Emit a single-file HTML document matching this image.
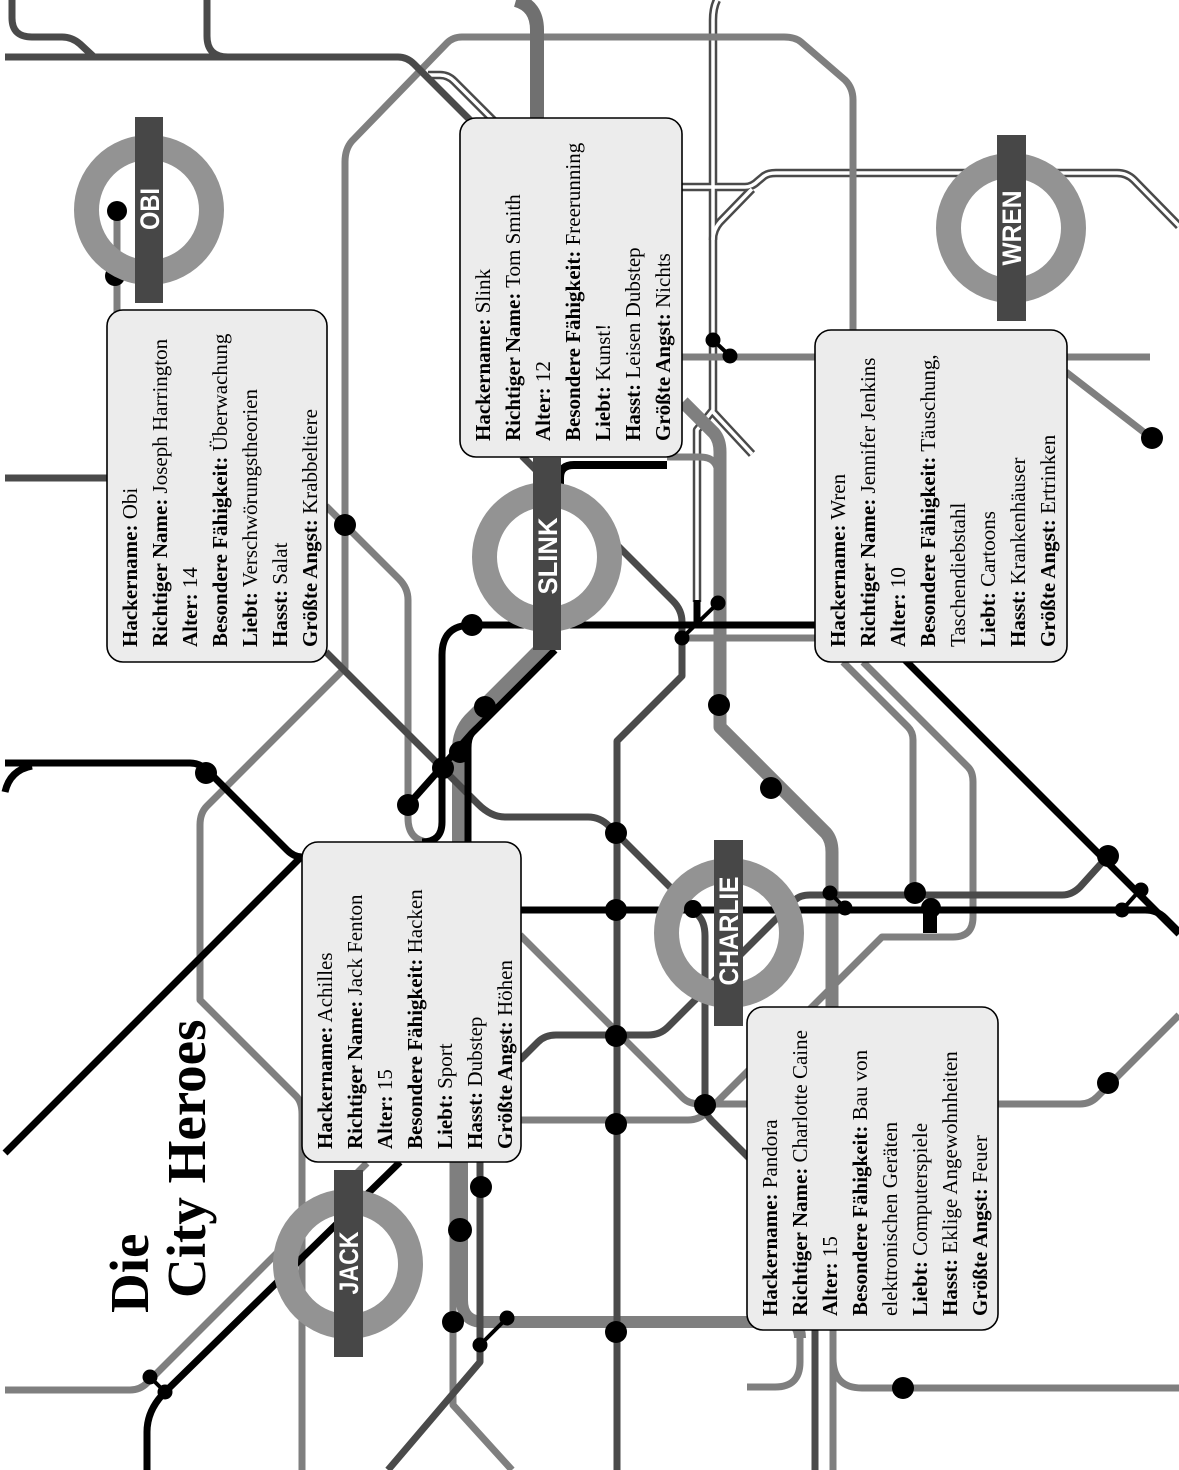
<!DOCTYPE html>
<html>
<head>
<meta charset="utf-8">
<style>
html,body{margin:0;padding:0;background:#fff;}
svg{display:block;}
</style>
</head>
<body>
<svg width="1179" height="1470" viewBox="0 0 1179 1470" xmlns="http://www.w3.org/2000/svg">
<rect width="1179" height="1470" fill="#fff"/>

<!-- double lines -->
<g fill="none" stroke-linejoin="round">
  <g stroke="#4a4a4a" stroke-width="8.5">
    <path d="M428,75 H440 Q448,75 454,81 L497,124"/>
    <path d="M717,0 Q713,8 713,20 V410 L697,430 V602"/>
    <path d="M713,412 L752,454"/>
    <path d="M682,187 H745 Q752,187 758,181 L764,176 Q768,173 776,173 H1117 Q1127,173 1134,180 L1179,226"/>
    <path d="M713,240 Q713,230 720,222 L752,189"/>
  </g>
  <g stroke="#fff" stroke-width="3.5">
    <path d="M428,75 H440 Q448,75 454,81 L497,124"/>
    <path d="M717,0 Q713,8 713,20 V410 L697,430 V602"/>
    <path d="M713,412 L752,454"/>
    <path d="M682,187 H745 Q752,187 758,181 L764,176 Q768,173 776,173 H1117 Q1127,173 1134,180 L1179,226"/>
    <path d="M713,240 Q713,230 720,222 L752,189"/>
  </g>
</g>

<!-- medium gray lines -->
<g fill="none" stroke="#7f7f7f" stroke-width="7" stroke-linejoin="round">
  <path d="M853,330 V100 Q853,88 845,80 L801,42 Q795,37 784,37 H462 Q453,37 447,43 L352,141 Q345,149 345,162 V668 L207,806 Q200,813 200,825 V1000 L296,1096 Q302,1102 302,1114 V1470"/>
  <path d="M117,215 V312"/>
  <path d="M326,506 L399,579 Q408,588 408,600 V818 Q408,840 428,842"/>
  <path d="M682,357 H1150"/>
  <path d="M1066,372 L1150,437"/>
  <path d="M682,638 H816"/>
  <path d="M843,662 L908,727 Q913,732 913,740 V893"/>
  <path d="M863,662 L968,767 Q973,772 973,782 V917 Q973,937 953,937 H882 L707,1112 Q699,1120 688,1120 H520"/>
  <path d="M520,935 L683,1098 Q689,1104 700,1104 H1080 Q1090,1104 1097,1097 L1179,1015"/>
  <path d="M5,1390 H130 Q140,1390 147,1383 L367,1163"/>
  <path d="M453,1162 V1405 L512,1470"/>
  <path d="M800,1335 V1362 Q800,1387 775,1387 H747"/>
  <path d="M833,1330 V1470"/>
  <path d="M833,1358 Q833,1388 862,1388 H1179"/>
  <path d="M667,457 H700 Q718,457 718,475"/>
  <path d="M683,402 L714,433 Q720,440 720,452 V727 L826,833 Q832,840 832,852 V1010" stroke-width="13"/>
  <path d="M548,642 L470,720 Q459,732 459,750 V843" stroke-width="14"/>
  <path d="M462,1162 V1300 Q462,1322 484,1322 H785 Q800,1322 800,1338" stroke-width="12"/>
  <path d="M516,0 Q537,6 537,30 V120" stroke="#707070" stroke-width="14"/>
</g>

<!-- dark gray lines -->
<g fill="none" stroke="#4a4a4a" stroke-width="7" stroke-linejoin="round">
  <path d="M12,0 V18 Q12,37 32,37 H62 Q72,37 80,44 L94,57"/>
  <path d="M5,57 H398 Q407,57 414,64 L474,124"/>
  <path d="M207,0 V36 Q207,57 228,57"/>
  <path d="M5,478 H110"/>
  <path d="M326,652 L478,804 Q491,817 505,817 H588 Q600,817 609,826 L698,915 Q705,922 705,936 V1106 Q705,1114 712,1121 L750,1159"/>
  <path d="M600,528 L673,601 Q682,610 682,622 V676 L617,741 V1470"/>
  <path d="M520,1060 L538,1042 Q545,1035 556,1035 H648 Q660,1035 668,1027 L795,900 Q800,895 810,895 H1062 Q1072,895 1080,887 L1108,856"/>
  <path d="M480,1162 V1362 L388,1470"/>
  <path d="M815,1330 V1470"/>
  <path d="M522,456 L542,476"/>
</g>

<!-- black lines -->
<g fill="none" stroke="#000" stroke-width="7" stroke-linejoin="round">
  <path d="M5,763 H190 Q200,763 208,771 L287,850 Q294,857 302,857"/>
  <path d="M300,858 L5,1153"/>
  <path d="M5,792 Q10,770 32,766"/>
  <path d="M520,910 H1145 Q1157,910 1165,918 L1179,932"/>
  <path d="M905,660 L1179,934"/>
  <path d="M472,625 H816"/>
  <path d="M472,625 Q442,625 442,655 V822 Q442,842 422,842"/>
  <path d="M555,650 L472,733 Q468,738 468,748 V843"/>
  <path d="M472,733 L408,805"/>
  <path d="M560,485 V478 Q560,465 574,465 H667" stroke-width="8"/>
  <path d="M165,1392 L400,1162"/>
  <path d="M165,1392 Q147,1410 147,1432 V1470"/>
  <path d="M930,906 V933" stroke-width="14"/>
  <path d="M697,600 V625"/>
  <g stroke-width="4">
    <path d="M713,340 L730,356"/>
    <path d="M830,893 L845,908"/>
    <path d="M1140,890 L1122,910"/>
    <path d="M150,1377 L165,1392"/>
    <path d="M507,1318 L480,1345"/>
    <path d="M718,603 L682,638"/>
  </g>
</g>

<!-- dots -->
<g fill="#000">
  <circle cx="115" cy="276" r="10"/>
  <circle cx="345" cy="525" r="11"/>
  <circle cx="206" cy="773" r="11"/>
  <circle cx="472" cy="625" r="11"/>
  <circle cx="485" cy="707" r="11"/>
  <circle cx="460" cy="752" r="11"/>
  <circle cx="443" cy="768" r="11"/>
  <circle cx="408" cy="805" r="11"/>
  <circle cx="719" cy="705" r="11"/>
  <circle cx="771" cy="788" r="11"/>
  <circle cx="616" cy="833" r="11"/>
  <circle cx="616" cy="910" r="11"/>
  <circle cx="616" cy="1036" r="11"/>
  <circle cx="616" cy="1124" r="11"/>
  <circle cx="616" cy="1332" r="11"/>
  <circle cx="705" cy="1105" r="11"/>
  <circle cx="915" cy="893" r="11"/>
  <circle cx="931" cy="908" r="10"/>
  <circle cx="1108" cy="856" r="11"/>
  <circle cx="1152" cy="438" r="11"/>
  <circle cx="1108" cy="1083" r="11"/>
  <circle cx="903" cy="1388" r="11"/>
  <circle cx="481" cy="1187" r="11"/>
  <circle cx="460" cy="1230" r="12"/>
  <circle cx="453" cy="1322" r="11"/>
  <circle cx="713" cy="340" r="7.5"/>
  <circle cx="730" cy="356" r="7.5"/>
  <circle cx="718" cy="603" r="7.5"/>
  <circle cx="682" cy="638" r="7.5"/>
  <circle cx="830" cy="893" r="7.5"/>
  <circle cx="845" cy="908" r="7.5"/>
  <circle cx="1141" cy="890" r="7.5"/>
  <circle cx="1122" cy="910" r="7.5"/>
  <circle cx="150" cy="1377" r="7.5"/>
  <circle cx="165" cy="1392" r="7.5"/>
  <circle cx="507" cy="1318" r="7.5"/>
  <circle cx="480" cy="1345" r="7.5"/>
</g>

<!-- rings -->
<g fill="none" stroke="#939393" stroke-width="25">
  <circle cx="149" cy="210" r="62.5"/>
  <circle cx="1011" cy="228" r="62.5"/>
  <circle cx="547" cy="557" r="62.5"/>
  <circle cx="729" cy="933" r="62.5"/>
  <circle cx="348" cy="1264" r="62.5"/>
</g>
<g fill="#000">
  <circle cx="117" cy="211" r="10"/>
  <circle cx="693" cy="909" r="9"/>
</g>

<!-- bars -->
<g fill="#474747">
  <rect x="135" y="117" width="28" height="186"/>
  <rect x="997" y="135" width="29" height="186"/>
  <rect x="533" y="458" width="28" height="192"/>
  <rect x="714" y="840" width="29" height="186"/>
  <rect x="334" y="1170" width="29" height="187"/>
</g>
<g fill="#fff" font-family="'Liberation Sans Narrow','Liberation Sans',sans-serif" font-weight="bold" font-size="27" text-anchor="middle">
  <text transform="translate(149,209) rotate(-90)" x="0" y="10" textLength="42" lengthAdjust="spacingAndGlyphs">OBI</text>
  <text transform="translate(1011,228) rotate(-90)" x="0" y="10" textLength="75" lengthAdjust="spacingAndGlyphs">WREN</text>
  <text transform="translate(547,556) rotate(-90)" x="0" y="10" textLength="77" lengthAdjust="spacingAndGlyphs">SLINK</text>
  <text transform="translate(728,931) rotate(-90)" x="0" y="10" textLength="109" lengthAdjust="spacingAndGlyphs">CHARLIE</text>
  <text transform="translate(348,1263) rotate(-90)" x="0" y="10" textLength="63" lengthAdjust="spacingAndGlyphs">JACK</text>
</g>

<!-- boxes -->
<g fill="#ececec" stroke="#000" stroke-width="1.6">
  <rect x="107" y="310" width="220" height="352" rx="16"/>
  <rect x="460" y="118" width="222" height="339" rx="16"/>
  <rect x="815" y="330" width="252" height="332" rx="16"/>
  <rect x="302" y="842" width="219" height="320" rx="16"/>
  <rect x="747" y="1007" width="251" height="323" rx="16"/>
</g>

<g font-family="'Liberation Serif',serif" font-size="21" fill="#000">
  <!-- Obi -->
  <text transform="translate(137,647) rotate(-90)"><tspan font-weight="bold">Hackername:</tspan> Obi</text>
  <text transform="translate(167,647) rotate(-90)"><tspan font-weight="bold">Richtiger Name:</tspan> Joseph Harrington</text>
  <text transform="translate(197,647) rotate(-90)"><tspan font-weight="bold">Alter:</tspan> 14</text>
  <text transform="translate(227,647) rotate(-90)"><tspan font-weight="bold">Besondere Fähigkeit:</tspan> Überwachung</text>
  <text transform="translate(257,647) rotate(-90)"><tspan font-weight="bold">Liebt:</tspan> Verschwörungstheorien</text>
  <text transform="translate(287,647) rotate(-90)"><tspan font-weight="bold">Hasst:</tspan> Salat</text>
  <text transform="translate(317,647) rotate(-90)"><tspan font-weight="bold">Größte Angst:</tspan> Krabbeltiere</text>
  <!-- Slink -->
  <text transform="translate(490,441) rotate(-90)"><tspan font-weight="bold">Hackername:</tspan> Slink</text>
  <text transform="translate(520,441) rotate(-90)"><tspan font-weight="bold">Richtiger Name:</tspan> Tom Smith</text>
  <text transform="translate(550,441) rotate(-90)"><tspan font-weight="bold">Alter:</tspan> 12</text>
  <text transform="translate(580,441) rotate(-90)"><tspan font-weight="bold">Besondere Fähigkeit:</tspan> Freerunning</text>
  <text transform="translate(610,441) rotate(-90)"><tspan font-weight="bold">Liebt:</tspan> Kunst!</text>
  <text transform="translate(640,441) rotate(-90)"><tspan font-weight="bold">Hasst:</tspan> Leisen Dubstep</text>
  <text transform="translate(670,441) rotate(-90)"><tspan font-weight="bold">Größte Angst:</tspan> Nichts</text>
  <!-- Wren -->
  <text transform="translate(845,647) rotate(-90)"><tspan font-weight="bold">Hackername:</tspan> Wren</text>
  <text transform="translate(875,647) rotate(-90)"><tspan font-weight="bold">Richtiger Name:</tspan> Jennifer Jenkins</text>
  <text transform="translate(905,647) rotate(-90)"><tspan font-weight="bold">Alter:</tspan> 10</text>
  <text transform="translate(935,647) rotate(-90)"><tspan font-weight="bold">Besondere Fähigkeit:</tspan> Täuschung,</text>
  <text transform="translate(965,647) rotate(-90)">Taschendiebstahl</text>
  <text transform="translate(995,647) rotate(-90)"><tspan font-weight="bold">Liebt:</tspan> Cartoons</text>
  <text transform="translate(1025,647) rotate(-90)"><tspan font-weight="bold">Hasst:</tspan> Krankenhäuser</text>
  <text transform="translate(1055,647) rotate(-90)"><tspan font-weight="bold">Größte Angst:</tspan> Ertrinken</text>
  <!-- Jack -->
  <text transform="translate(332,1149) rotate(-90)"><tspan font-weight="bold">Hackername:</tspan> Achilles</text>
  <text transform="translate(362,1149) rotate(-90)"><tspan font-weight="bold">Richtiger Name:</tspan> Jack Fenton</text>
  <text transform="translate(392,1149) rotate(-90)"><tspan font-weight="bold">Alter:</tspan> 15</text>
  <text transform="translate(422,1149) rotate(-90)"><tspan font-weight="bold">Besondere Fähigkeit:</tspan> Hacken</text>
  <text transform="translate(452,1149) rotate(-90)"><tspan font-weight="bold">Liebt:</tspan> Sport</text>
  <text transform="translate(482,1149) rotate(-90)"><tspan font-weight="bold">Hasst:</tspan> Dubstep</text>
  <text transform="translate(512,1149) rotate(-90)"><tspan font-weight="bold">Größte Angst:</tspan> Höhen</text>
  <!-- Pandora -->
  <text transform="translate(777,1316) rotate(-90)"><tspan font-weight="bold">Hackername:</tspan> Pandora</text>
  <text transform="translate(807,1316) rotate(-90)"><tspan font-weight="bold">Richtiger Name:</tspan> Charlotte Caine</text>
  <text transform="translate(837,1316) rotate(-90)"><tspan font-weight="bold">Alter:</tspan> 15</text>
  <text transform="translate(867,1316) rotate(-90)"><tspan font-weight="bold">Besondere Fähigkeit:</tspan> Bau von</text>
  <text transform="translate(897,1316) rotate(-90)">elektronischen Geräten</text>
  <text transform="translate(927,1316) rotate(-90)"><tspan font-weight="bold">Liebt:</tspan> Computerspiele</text>
  <text transform="translate(957,1316) rotate(-90)"><tspan font-weight="bold">Hasst:</tspan> Eklige Angewohnheiten</text>
  <text transform="translate(987,1316) rotate(-90)"><tspan font-weight="bold">Größte Angst:</tspan> Feuer</text>
</g>

<!-- title -->
<g font-family="'Liberation Serif',serif" font-size="55" font-weight="bold" fill="#000">
  <text transform="translate(148,1313) rotate(-90)">Die</text>
  <text transform="translate(205,1298) rotate(-90)">City Heroes</text>
</g>
</svg>
</body>
</html>
